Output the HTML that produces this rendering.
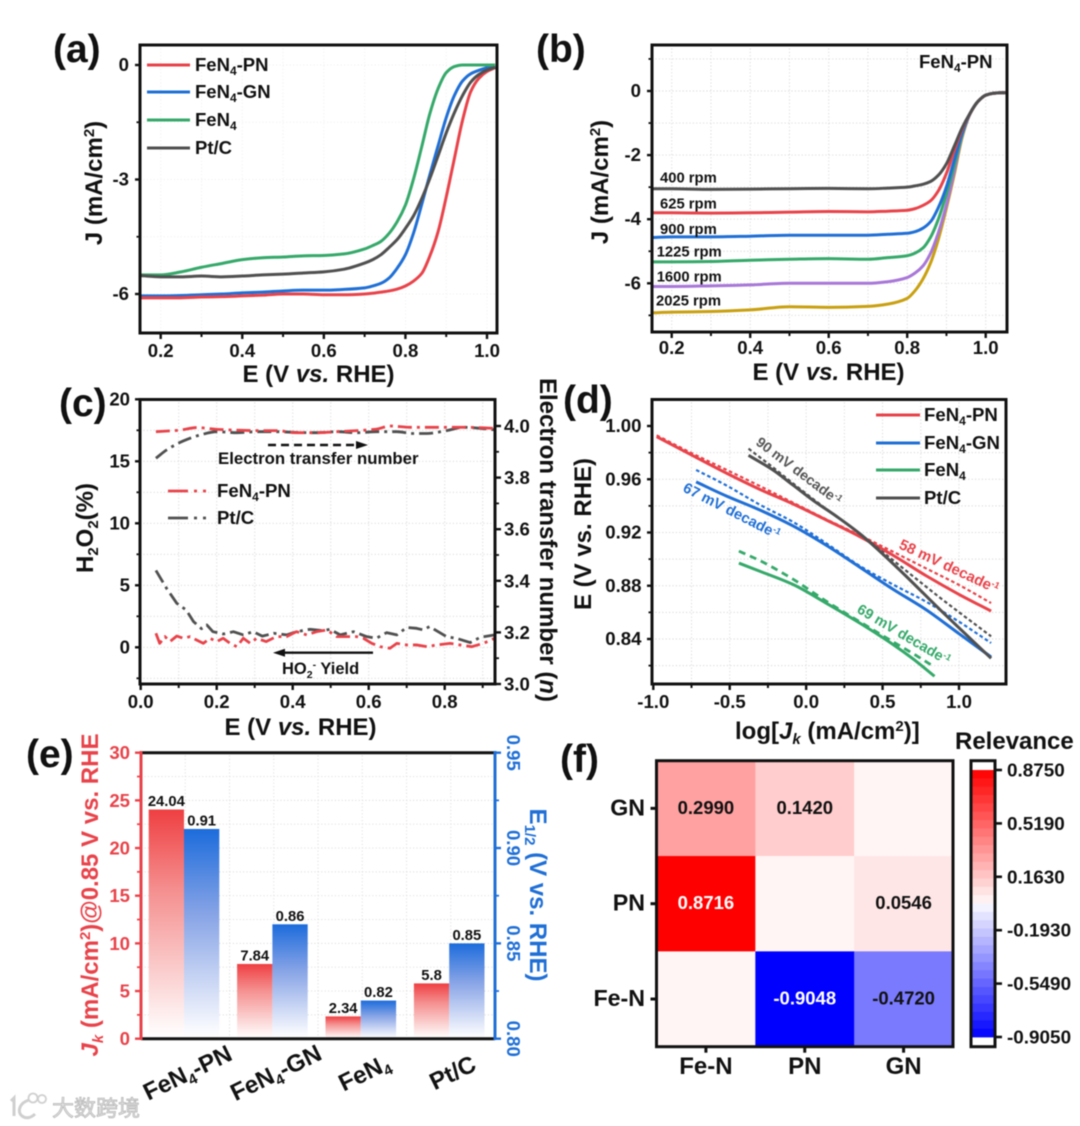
<!DOCTYPE html>
<html lang="en">
<head>
<meta charset="utf-8">
<title>Electrocatalyst ORR performance panels</title>
<style>
html,body{margin:0;padding:0;background:#fff;}
#fig{display:block;width:1080px;height:1126px;filter:blur(0.55px);}
#fig text{font-family:"Liberation Sans","Noto Sans CJK SC",sans-serif;font-weight:700;fill:#111;}
#fig text.wm{font-family:"Noto Sans CJK SC","Liberation Sans",sans-serif;font-weight:400;fill:#e2e2e2;stroke:#b4b4b4;stroke-width:.7;}
</style>
</head>
<body>
<svg id="fig" xmlns="http://www.w3.org/2000/svg" width="1080" height="1126" viewBox="0 0 1080 1126">
<defs>
<linearGradient id="gradRed" x1="0" y1="0" x2="0" y2="1"><stop offset="0" stop-color="#ef3f42"/><stop offset=".35" stop-color="#f58f8f"/><stop offset=".95" stop-color="#fff8f8"/><stop offset="1" stop-color="#fff"/></linearGradient>
<linearGradient id="gradBlue" x1="0" y1="0" x2="0" y2="1"><stop offset="0" stop-color="#1c6cdc"/><stop offset=".4" stop-color="#86a3e6"/><stop offset=".95" stop-color="#f8f9fe"/><stop offset="1" stop-color="#fff"/></linearGradient>
<clipPath id="clipA"><rect x="140" y="45" width="357" height="288"/></clipPath>
<clipPath id="clipB"><rect x="652" y="45" width="355" height="287"/></clipPath>
<clipPath id="clipC"><rect x="140" y="399" width="355" height="285"/></clipPath>
<clipPath id="clipD"><rect x="652" y="399" width="354" height="285"/></clipPath>
</defs>

<g id="panelA"></g>
<g id="panelB"></g>
<g id="panelC"></g>
<g id="panelD"></g>
<g id="panelE"></g>
<g id="panelF"></g>

<!-- panel letters -->
<text x="53" y="62" font-size="39">(a)</text>
<text x="536" y="62" font-size="39">(b)</text>
<text x="59" y="416" font-size="39">(c)</text>
<text x="563" y="413" font-size="39">(d)</text>
<text x="26" y="767" font-size="39">(e)</text>
<text x="560" y="772" font-size="39">(f)</text>

<!-- panel a static -->
<text x="318.5" y="382" font-size="24" text-anchor="middle">E (V <tspan font-style="italic">vs.</tspan> RHE)</text>
<text transform="translate(102,183) rotate(-90)" font-size="24" text-anchor="middle">J (mA/cm<tspan dy="-8" font-size="15">2</tspan><tspan dy="8">)</tspan></text>
<g>
<line x1="147" x2="190" y1="65" y2="65" stroke="#e8434a" stroke-width="3"/>
<text x="195" y="71" font-size="18.5">FeN<tspan dy="4" font-size="12">4</tspan><tspan dy="-4">-PN</tspan></text>
<line x1="147" x2="190" y1="92" y2="92" stroke="#1f6fd6" stroke-width="3"/>
<text x="195" y="98" font-size="18.5">FeN<tspan dy="4" font-size="12">4</tspan><tspan dy="-4">-GN</tspan></text>
<line x1="147" x2="190" y1="120" y2="120" stroke="#35a96a" stroke-width="3"/>
<text x="195" y="126" font-size="18.5">FeN<tspan dy="4" font-size="12">4</tspan></text>
<line x1="147" x2="190" y1="148" y2="148" stroke="#505050" stroke-width="3"/>
<text x="195" y="154" font-size="18.5">Pt/C</text>
</g>

<!-- panel b static -->
<text x="828.5" y="380" font-size="24" text-anchor="middle">E (V <tspan font-style="italic">vs.</tspan> RHE)</text>
<text transform="translate(608,182) rotate(-90)" font-size="24" text-anchor="middle">J (mA/cm<tspan dy="-8" font-size="15">2</tspan><tspan dy="8">)</tspan></text>
<text x="919" y="68" font-size="18.5">FeN<tspan dy="4" font-size="12">4</tspan><tspan dy="-4">-PN</tspan></text>

<!-- panel c static -->
<text x="300.5" y="735" font-size="24" text-anchor="middle">E (V <tspan font-style="italic">vs.</tspan> RHE)</text>
<text transform="translate(93,528) rotate(-90)" font-size="24" text-anchor="middle">H<tspan dy="5" font-size="15">2</tspan><tspan dy="-5">O</tspan><tspan dy="5" font-size="15">2</tspan><tspan dy="-5">(%)</tspan></text>
<text transform="translate(540,540) rotate(90)" font-size="24" text-anchor="middle">Electron transfer number (<tspan font-style="italic">n</tspan>)</text>
<text x="218" y="464" font-size="16.8">Electron transfer number</text>
<line x1="268" x2="358" y1="445" y2="445" stroke="#111" stroke-width="2.4" stroke-dasharray="8 5"/>
<polygon points="368,445 356,441 356,449" fill="#111"/>
<line x1="373" x2="284" y1="652.7" y2="652.7" stroke="#111" stroke-width="2.4"/>
<polygon points="273,652.7 285,648.7 285,656.7" fill="#111"/>
<text x="282" y="674" font-size="16.5">HO<tspan dy="4" font-size="10.5">2</tspan><tspan dy="-10" font-size="10.5">-</tspan><tspan dy="6"> Yield</tspan></text>
<line x1="168" x2="213" y1="491" y2="491" stroke="#e8434a" stroke-width="2.8" stroke-dasharray="20 6 3 6 3 20"/>
<text x="217" y="497" font-size="18.6">FeN<tspan dy="4" font-size="12">4</tspan><tspan dy="-4">-PN</tspan></text>
<line x1="168" x2="213" y1="518" y2="518" stroke="#505050" stroke-width="2.8" stroke-dasharray="20 6 3 6 3 20"/>
<text x="217" y="524" font-size="18.6">Pt/C</text>

<!-- panel d static -->
<text x="735" y="739" font-size="24">log[<tspan font-style="italic">J</tspan><tspan dy="5" font-size="15" font-style="italic">k</tspan><tspan dy="-5"> (mA/cm</tspan><tspan dy="-8" font-size="15">2</tspan><tspan dy="8">)]</tspan></text>
<text transform="translate(591,534) rotate(-90)" font-size="24" text-anchor="middle">E (V vs. RHE)</text>
<g>
<line x1="876" x2="920" y1="415" y2="415" stroke="#e8434a" stroke-width="3"/>
<text x="924" y="421" font-size="18.6">FeN<tspan dy="4" font-size="12">4</tspan><tspan dy="-4">-PN</tspan></text>
<line x1="876" x2="920" y1="443" y2="443" stroke="#1f6fd6" stroke-width="3"/>
<text x="924" y="449" font-size="18.6">FeN<tspan dy="4" font-size="12">4</tspan><tspan dy="-4">-GN</tspan></text>
<line x1="876" x2="920" y1="470" y2="470" stroke="#35a96a" stroke-width="3"/>
<text x="924" y="476" font-size="18.6">FeN<tspan dy="4" font-size="12">4</tspan></text>
<line x1="876" x2="920" y1="498" y2="498" stroke="#505050" stroke-width="3"/>
<text x="924" y="504" font-size="18.6">Pt/C</text>
</g>
<text transform="translate(755,444) rotate(37)" font-size="14.2" style="fill:#555">90 mV decade<tspan dy="-5" font-size="9">-1</tspan></text>
<text transform="translate(682,491) rotate(27)" font-size="14.8" style="fill:#1f6fd6">67 mV decade<tspan dy="-5" font-size="9">-1</tspan></text>
<text transform="translate(898,548) rotate(25)" font-size="15" style="fill:#e8434a">58 mV decade<tspan dy="-5" font-size="9">-1</tspan></text>
<text transform="translate(856,612) rotate(30.5)" font-size="14.6" style="fill:#35a96a">69 mV decade<tspan dy="-5" font-size="9">-1</tspan></text>

<!-- panel e static -->
<text transform="translate(98,895) rotate(-90)" font-size="24" text-anchor="middle" style="fill:#e8434a"><tspan font-style="italic">J</tspan><tspan dy="5" font-size="15" font-style="italic">k</tspan><tspan dy="-5"> (mA/cm</tspan><tspan dy="-8" font-size="15">2</tspan><tspan dy="8">)@0.85 V vs. RHE</tspan></text>
<text transform="translate(530,895) rotate(90)" font-size="24" text-anchor="middle" style="fill:#1f6fd6">E<tspan dy="5" font-size="15">1/2</tspan><tspan dy="-5"> (V vs. RHE)</tspan></text>

<!-- panel f static -->
<text x="955" y="749" font-size="24">Relevance</text>

<!-- watermark -->
<g fill="none" stroke="#cfcfcf">
<path d="M11 1101 L14 1098 L14 1116" stroke-width="3"/>
<path d="M29 1100 C19 1103 17 1112 22 1116 C26 1119 31 1118 35 1114" stroke-width="3"/>
<circle cx="33" cy="1098" r="4.5" stroke-width="1.8"/>
<circle cx="42" cy="1099" r="4" stroke-width="1.8"/>
<text class="wm" x="52" y="1116" font-size="22">大数跨境</text>
</g>
</svg>

<script>
/* ---------- panel (a) data ---------- */
const aE    = [.15,.2,.25,.3,.35,.4,.45,.5,.55,.6,.65,.7,.72,.74,.76,.78,.8,.82,.84,.86,.88,.9,.92,.94,.96,.98,1,1.02];
const aPN   = [-6.1,-6.1,-6.1,-6.08,-6.07,-6.05,-6.03,-6,-6,-6.02,-6.02,-6,-5.98,-5.95,-5.92,-5.87,-5.79,-5.66,-5.46,-5,-4.37,-3.46,-2.45,-1.45,-.7,-.35,-.17,-.07];
const aGN   = [-6.05,-6.05,-6.04,-6.02,-6,-5.97,-5.95,-5.92,-5.9,-5.9,-5.88,-5.84,-5.79,-5.72,-5.58,-5.32,-4.97,-4.4,-3.65,-2.87,-2.12,-1.38,-.8,-.42,-.23,-.14,-.07,-.02];
const aFeN4 = [-5.5,-5.5,-5.42,-5.3,-5.2,-5.1,-5.05,-5.03,-5,-4.99,-4.95,-4.82,-4.73,-4.62,-4.41,-4.1,-3.67,-2.98,-2.14,-1.27,-.62,-.2,-.04,0,0,0,0,0];
const aPtC  = [-5.52,-5.55,-5.55,-5.53,-5.55,-5.53,-5.5,-5.48,-5.45,-5.42,-5.35,-5.19,-5.1,-4.97,-4.78,-4.57,-4.28,-3.95,-3.5,-2.97,-2.38,-1.78,-1.25,-.8,-.45,-.25,-.13,-.06];
const aXTicks = ['0.2','0.4','0.6','0.8','1.0'];
const aYTicks = ['0','-3','-6'];

/* ---------- panel (b) data ---------- */
const bE     = [.15,.2,.3,.4,.5,.6,.7,.75,.8,.82,.84,.86,.88,.9,.92,.94,.96,.98,1,1.02,1.05];
const b400   = [-3.05,-3.05,-3.07,-3.06,-3.05,-3.04,-3.05,-3.03,-3,-2.96,-2.91,-2.82,-2.62,-2.27,-1.72,-1.15,-.7,-.33,-.13,-.07,-.05];
const b625   = [-3.8,-3.8,-3.81,-3.8,-3.78,-3.76,-3.77,-3.75,-3.72,-3.67,-3.57,-3.42,-3.1,-2.57,-1.85,-1.2,-.7,-.33,-.13,-.07,-.05];
const b900   = [-4.57,-4.55,-4.55,-4.53,-4.5,-4.5,-4.5,-4.47,-4.44,-4.39,-4.28,-4.07,-3.62,-2.99,-2.15,-1.3,-.7,-.33,-.13,-.07,-.05];
const b1225  = [-5.33,-5.33,-5.32,-5.28,-5.25,-5.23,-5.25,-5.2,-5.14,-5.06,-4.9,-4.55,-3.98,-3.2,-2.32,-1.35,-.7,-.33,-.13,-.07,-.05];
const b1600  = [-6.1,-6.1,-6.08,-6.05,-6,-6,-6,-5.95,-5.82,-5.68,-5.46,-5.05,-4.4,-3.55,-2.5,-1.4,-.72,-.33,-.13,-.07,-.05];
const b2025  = [-6.92,-6.9,-6.88,-6.83,-6.73,-6.75,-6.72,-6.65,-6.47,-6.23,-5.87,-5.35,-4.6,-3.65,-2.6,-1.45,-.72,-.33,-.13,-.07,-.05];
const bXTicks = ['0.2','0.4','0.6','0.8','1.0'];
const bYTicks = ['0','-2','-4','-6'];
const bRpmLabels = ['400 rpm','625 rpm','900 rpm','1225 rpm','1600 rpm','2025 rpm'];

/* ---------- panel (c) data ---------- */
const cEnPN   = [.04,.104,.147,.2,.253,.305,.358,.41,.463,.516,.568,.621,.656,.709,.753,.796,.849,.932];
const cNPN    = [3.978,3.984,3.994,3.987,3.984,3.982,3.982,3.974,3.974,3.978,3.982,3.988,4,3.995,3.995,3.995,3.995,3.991];
const cEnPtC  = [.04,.068,.112,.156,.2,.253,.305,.358,.41,.463,.516,.568,.621,.674,.718,.753,.805,.849,.893,.934];
const cNPtC   = [3.875,3.907,3.942,3.965,3.978,3.974,3.978,3.978,3.975,3.974,3.978,3.974,3.978,3.978,3.971,3.971,3.982,3.995,3.991,3.985];
const cEyPN   = [.04,.05,.064,.077,.095,.112,.13,.147,.165,.182,.2,.217,.235,.253,.27,.288,.305,.33,.357,.384,.41,.437,.463,.49,.516,.542,.568,.586,.608,.63,.656,.674,.7,.726,.753,.779,.814,.84,.871,.902,.932];
const cYPN    = [1.13,.32,.86,.46,.91,.73,.86,.59,.32,.73,.46,.73,.32,.05,.73,.32,.73,.46,.86,.86,1.26,1,1.26,1.4,.86,.86,.86,.73,.32,.05,-.08,.32,.19,.19,.05,.19,.32,.19,.05,.32,.73];
const cEyPtC  = [.04,.068,.095,.12,.139,.16,.174,.19,.218,.244,.27,.296,.32,.35,.384,.41,.445,.48,.498,.525,.56,.595,.62,.647,.674,.7,.726,.744,.76,.805,.83,.867,.893,.932];
const cYPtC   = [6.2,4.76,3.55,3,2.07,1.5,1.8,1.26,1.07,1.26,1,1.26,.9,1.13,1,1.26,1.45,1.34,1.45,1,1.26,.86,.73,1.18,1,1.6,1.53,1.4,1.67,.86,.73,.38,.8,1];
const cXTicks = ['0.0','0.2','0.4','0.6','0.8'];
const cLeftTicks = ['20','15','10','5','0'];
const cRightTicks = ['4.0','3.8','3.6','3.4','3.2','3.0'];

/* ---------- panel (d) data ---------- */
const dPNx  = [-.978,-.738,-.52,-.305,-.087,.13,.35,.567,.785,1,1.21];
const dPNy  = [.992,.9775,.9645,.9525,.9415,.9295,.917,.903,.8875,.8735,.861];
const dPNf  = [.993,.979,.967,.955,.9425,.93,.918,.9056,.893,.8806,.867];
const dGNx  = [-.72,-.524,-.305,-.087,.13,.35,.567,.785,1,1.21];
const dGNy  = [.958,.9475,.937,.925,.9105,.894,.8775,.862,.844,.8265];
const dGNf  = [.967,.9555,.941,.928,.912,.895,.881,.868,.853,.837];
const dFeX  = [-.44,-.305,-.087,.13,.35,.567,.7,.84];
const dFeY  = [.897,.891,.881,.867,.852,.836,.825,.812];
const dFeF  = [.906,.899,.885,.8685,.853,.838,.829,.819];
const dPtX  = [-.377,-.218,-.087,.047,.2,.352,.592,.876,1.21];
const dPtY  = [.978,.967,.9557,.944,.932,.919,.894,.862,.8255];
const dPtF  = [.983,.969,.957,.945,.932,.919,.897,.871,.842];
const dXTicks = ['-1.0','-0.5','0.0','0.5','1.0'];
const dYTicks = ['1.00','0.96','0.92','0.88','0.84'];

/* ---------- panel (e) data ---------- */
const eCategories = ['FeN4-PN','FeN4-GN','FeN4','Pt/C'];
const eJk  = [24.04,7.84,2.34,5.8];
const eE12 = [.91,.86,.82,.85];
const eJkLabels  = ['24.04','7.84','2.34','5.8'];
const eE12Labels = ['0.91','0.86','0.82','0.85'];
const eLeftTicks  = ['30','25','20','15','10','5','0'];
const eRightTicks = ['0.95','0.90','0.85','0.80'];

/* ---------- panel (f) data ---------- */
const fRows = ['GN','PN','Fe-N'];
const fCols = ['Fe-N','PN','GN'];
const fValues = [[.2990,.1420,0],[.8716,0,.0546],[0,-.9048,-.4720]];
const fBarTicks = ['0.8750','0.5190','0.1630','-0.1930','-0.5490','-0.9050'];

/* ---------- helpers ---------- */
const NS = 'http://www.w3.org/2000/svg';
const RED='#e8434a', BLUE='#1f6fd6', GREEN='#35a96a', DARK='#505050', GOLD='#c9a010', PURPLE='#a877d8';

function add(parent, tag, attrs, name, txt){
  const el = document.createElementNS(NS, tag);
  for (const k in attrs) el.setAttribute(k, attrs[k]);
  
  
  if (txt !== undefined) el.textContent = txt;
  parent.appendChild(el);
  return el;
}
function scale(d0, r0, d1, r1){ return v => r0 + (v - d0) * (r1 - r0) / (d1 - d0); }
/* monotone cubic through the data points (keeps knees smooth with uneven spacing) */
function smoothPath(pts){
  const n = pts.length, sec = [], m = [];
  for (let i = 0; i < n-1; i++) sec.push((pts[i+1][1]-pts[i][1])/(pts[i+1][0]-pts[i][0]));
  m[0] = sec[0]; m[n-1] = sec[n-2];
  for (let i = 1; i < n-1; i++){
    if (sec[i-1]*sec[i] <= 0) { m[i] = 0; continue; }
    const h0 = pts[i][0]-pts[i-1][0], h1 = pts[i+1][0]-pts[i][0];
    const w0 = 2*h1+h0, w1 = h1+2*h0;
    m[i] = (w0+w1)/(w0/sec[i-1]+w1/sec[i]);
  }
  let d = 'M' + pts[0][0].toFixed(2) + ' ' + pts[0][1].toFixed(2);
  for (let i = 0; i < n-1; i++){
    const h = (pts[i+1][0]-pts[i][0])/3;
    d += 'C' + (pts[i][0]+h).toFixed(2) + ' ' + (pts[i][1]+m[i]*h).toFixed(2) + ' '
      + (pts[i+1][0]-h).toFixed(2) + ' ' + (pts[i+1][1]-m[i+1]*h).toFixed(2) + ' '
      + pts[i+1][0].toFixed(2) + ' ' + pts[i+1][1].toFixed(2);
  }
  return d;
}
function series(g, xs, ys, sx, sy, opts, name){
  const pts = xs.map((x,i) => [sx(x), sy(ys[i])]);
  const attrs = {fill:'none', stroke:opts.color, 'stroke-width':opts.w || 3, 'stroke-linejoin':'round'};
  if (opts.dash) attrs['stroke-dasharray'] = opts.dash;
  if (opts.clip) attrs['clip-path'] = 'url(#' + opts.clip + ')';
  attrs.d = opts.straight ? 'M' + pts.map(p => p[0].toFixed(2) + ' ' + p[1].toFixed(2)).join('L') : smoothPath(pts);
  return add(g, 'path', attrs, name);
}
function frame(g, x0, y0, x1, y1, name){
  add(g, 'rect', {x:x0, y:y0, width:x1-x0, height:y1-y0, fill:'none', stroke:'#111', 'stroke-width':3}, name);
}
function vGrid(g, vals, sx, y0, y1, color){
  vals.forEach(v => add(g, 'line', {x1:sx(v), x2:sx(v), y1:y0, y2:y1, stroke:color, 'stroke-width':.9, 'stroke-dasharray':'1.2 2.2'}, 'grid-line-vertical'));
}
function hGrid(g, vals, sy, x0, x1, color){
  vals.forEach(v => add(g, 'line', {y1:sy(v), y2:sy(v), x1:x0, x2:x1, stroke:color, 'stroke-width':.9, 'stroke-dasharray':'1.2 2.2'}, 'grid-line-horizontal'));
}
function xAxis(g, labels, sx, yBase, labelY, minors, color, name){
  labels.forEach(t => {
    const v = parseFloat(t);
    add(g, 'line', {x1:sx(v), x2:sx(v), y1:yBase, y2:yBase+6, stroke:color||'#111', 'stroke-width':2.4}, name + '-tick');
    add(g, 'text', {x:sx(v), y:labelY, 'font-size':18.6, 'text-anchor':'middle'}, name + '-tick-label', t);
  });
  minors.forEach(v => add(g, 'line', {x1:sx(v), x2:sx(v), y1:yBase, y2:yBase+4, stroke:color||'#111', 'stroke-width':2}, name + '-minor-tick'));
}
function yAxis(g, labels, sy, xBase, labelX, minors, name){
  labels.forEach(t => {
    const v = parseFloat(t);
    add(g, 'line', {y1:sy(v), y2:sy(v), x1:xBase, x2:xBase-5, stroke:'#111', 'stroke-width':2.4}, name + '-tick');
    add(g, 'text', {x:labelX, y:sy(v)+6, 'font-size':18.6, 'text-anchor':'end'}, name + '-tick-label', t);
  });
  minors.forEach(v => add(g, 'line', {y1:sy(v), y2:sy(v), x1:xBase, x2:xBase-3.5, stroke:'#111', 'stroke-width':1.8}, name + '-minor-tick'));
}

/* ---------- panel a ---------- */
(function(){
  const g = document.getElementById('panelA');
  const sx = scale(.2,160.7,1,487), sy = scale(0,65,-6,294);
  vGrid(g,[.2,.3,.4,.5,.6,.7,.8,.9,1],sx,45,333,'#efefef');
  hGrid(g,[0,-1.5,-3,-4.5,-6],sy,140,497,'#efefef');
  series(g,aE,aGN,sx,sy,{color:BLUE,clip:'clipA'},'a-line-fen4-gn');
  series(g,aE,aPN,sx,sy,{color:RED,clip:'clipA'},'a-line-fen4-pn');
  series(g,aE,aFeN4,sx,sy,{color:GREEN,clip:'clipA'},'a-line-fen4');
  series(g,aE,aPtC,sx,sy,{color:DARK,clip:'clipA'},'a-line-ptc');
  frame(g,140,45,497,333,'a-plot-frame');
  xAxis(g,aXTicks,sx,333,357,[.3,.5,.7,.9],null,'a-x-axis');
  yAxis(g,aYTicks,sy,140,129,[-1.5,-4.5],'a-y-axis');
})();

/* ---------- panel b ---------- */
(function(){
  const g = document.getElementById('panelB');
  const sx = scale(.2,671.7,1,985.7), sy = scale(0,91,-6,283.3);
  vGrid(g,[.2,.3,.4,.5,.6,.7,.8,.9,1],sx,45,332,'#d6d6d6');
  hGrid(g,[1,0,-1,-2,-3,-4,-5,-6,-7],sy,652,1007,'#d6d6d6');
  const opts = [[b2025,GOLD,'2025'],[b1600,PURPLE,'1600'],[b1225,GREEN,'1225'],[b900,BLUE,'900'],[b625,RED,'625'],[b400,DARK,'400']];
  opts.forEach(o => series(g,bE,o[0],sx,sy,{color:o[1],clip:'clipB'},'b-line-' + o[2] + '-rpm'));
  const xs = [660,660,660,656.7,656.7,656];
  const ys = [-2.85,-3.67,-4.46,-5.17,-5.94,-6.7];
  bRpmLabels.forEach((t,i) => add(g,'text',{x:xs[i],y:sy(ys[i]),'font-size':14.8},'b-rpm-label',t));
  frame(g,652,45,1007,332,'b-plot-frame');
  xAxis(g,bXTicks,sx,332,354,[.3,.5,.7,.9],null,'b-x-axis');
  yAxis(g,bYTicks,sy,652,641,[1,-1,-3,-5,-7],'b-y-axis');
})();

/* ---------- panel c ---------- */
(function(){
  const g = document.getElementById('panelC');
  const sx = scale(0,140.7,.8,444.7), syL = scale(0,647.3,20,399.3), syR = scale(3,684,4,426);
  vGrid(g,[.1,.2,.3,.4,.5,.6,.7,.8,.9],sx,399,684,'#d6d6d6');
  hGrid(g,[-2.5,0,2.5,5,7.5,10,12.5,15,17.5],syL,140,495,'#d6d6d6');
  const dash = '14 5 3 5';
  series(g,cEnPtC,cNPtC,sx,syR,{color:DARK,dash:dash,w:2.8,straight:false,clip:'clipC'},'c-line-ptc-electron-number');
  series(g,cEnPN,cNPN,sx,syR,{color:RED,dash:dash,w:2.8,straight:false,clip:'clipC'},'c-line-pn-electron-number');
  series(g,cEyPtC,cYPtC,sx,syL,{color:DARK,dash:dash,w:2.8,straight:true,clip:'clipC'},'c-line-ptc-yield');
  series(g,cEyPN,cYPN,sx,syL,{color:RED,dash:dash,w:2.8,straight:true,clip:'clipC'},'c-line-pn-yield');
  frame(g,140,399.5,495,684,'c-plot-frame');
  xAxis(g,cXTicks,sx,684,708,[.1,.3,.5,.7,.9],null,'c-x-axis');
  yAxis(g,cLeftTicks,syL,140,130,[2.5,7.5,12.5,17.5,-2.5],'c-left-axis');
  cRightTicks.forEach(t => {
    const v = parseFloat(t);
    add(g,'line',{y1:syR(v),y2:syR(v),x1:495,x2:501,stroke:'#111','stroke-width':2.4},'c-right-axis-tick');
    add(g,'text',{x:504,y:syR(v)+6.5,'font-size':18.6},'c-right-axis-tick-label',t);
  });
  [3.1,3.3,3.5,3.7,3.9].forEach(v => add(g,'line',{y1:syR(v),y2:syR(v),x1:495,x2:499,stroke:'#111','stroke-width':1.8},'c-right-axis-minor-tick'));
})();

/* ---------- panel d ---------- */
(function(){
  const g = document.getElementById('panelD');
  const sx = scale(-1,653.3,1,959), sy = scale(1,426,.84,639);
  vGrid(g,[-.75,-.5,-.25,0,.25,.5,.75,1],sx,399,684,'#d6d6d6');
  hGrid(g,[.98,.96,.94,.92,.9,.88,.86,.84,.82],sy,652,1006,'#d6d6d6');
  const fine = '3.6 2.6';
  series(g,dPNx,dPNy,sx,sy,{color:RED,clip:'clipD'},'d-line-pn');
  series(g,dPNx,dPNf,sx,sy,{color:RED,dash:fine,w:2.2,clip:'clipD'},'d-fit-pn');
  series(g,dGNx,dGNy,sx,sy,{color:BLUE,clip:'clipD'},'d-line-gn');
  series(g,dGNx,dGNf,sx,sy,{color:BLUE,dash:fine,w:2.2,clip:'clipD'},'d-fit-gn');
  series(g,dFeX,dFeY,sx,sy,{color:GREEN,clip:'clipD'},'d-line-fen4');
  series(g,dFeX,dFeF,sx,sy,{color:GREEN,dash:'7 5',w:2.8,clip:'clipD'},'d-fit-fen4');
  series(g,dPtX,dPtY,sx,sy,{color:DARK,clip:'clipD'},'d-line-ptc');
  series(g,dPtX,dPtF,sx,sy,{color:DARK,dash:fine,w:2.2,clip:'clipD'},'d-fit-ptc');
  frame(g,652,399.5,1006,684,'d-plot-frame');
  xAxis(g,dXTicks,sx,684,708,[-.75,-.25,.25,.75],null,'d-x-axis');
  yAxis(g,dYTicks,sy,652,641.5,[.98,.94,.9,.86,.82],'d-y-axis');
})();

/* ---------- panel e ---------- */
(function(){
  const g = document.getElementById('panelE');
  const syL = scale(0,1038.7,30,752.7), syR = scale(.8,1038.7,.95,752.7);
  const cx = i => 184 + 88.4 * i;
  const halfW = 35.3;
  vGrid(g,[1,2,3,4,5,6,7,8].map(k => k),scale(0,141,8,495),752,1038,'#dcdcdc');
  hGrid(g,[2.5,5,7.5,10,12.5,15,17.5,20,22.5,25,27.5],syL,141,495,'#dcdcdc');
  eCategories.forEach((c,i) => {
    const yr = syL(eJk[i]), yb = syR(eE12[i]), y0 = syL(0);
    add(g,'rect',{x:cx(i)-halfW,y:yr,width:halfW,height:y0-yr,fill:'url(#gradRed)'},'bar-jk-' + i);
    add(g,'rect',{x:cx(i),y:yb,width:halfW,height:y0-yb,fill:'url(#gradBlue)'},'bar-e12-' + i);
    add(g,'text',{x:cx(i)-halfW/2,y:yr-3.5,'font-size':14.8,'text-anchor':'middle'},'bar-jk-value',eJkLabels[i]);
    add(g,'text',{x:cx(i)+halfW/2,y:yb-3.5,'font-size':14.8,'text-anchor':'middle'},'bar-e12-value',eE12Labels[i]);
    const parts = c.split('4');
    const lab = add(g,'text',{transform:'translate(' + (cx(i)+7) + ',1080) rotate(-26)','font-size':24,'text-anchor':'middle'},'x-category-label');
    lab.appendChild(document.createTextNode(parts[0]));
    if (parts.length > 1){
      const s = add(lab,'tspan',{dy:5,'font-size':15},'x-category-subscript','4');
      const r = add(lab,'tspan',{dy:-5},'x-category-suffix',parts[1] || ' ');
    }
  });
  add(g,'line',{x1:141,x2:495,y1:752.7,y2:752.7,stroke:'#111','stroke-width':3},'e-top-axis');
  add(g,'line',{x1:141,x2:495,y1:1038.7,y2:1038.7,stroke:'#111','stroke-width':3},'e-bottom-axis');
  add(g,'line',{x1:141,x2:141,y1:751,y2:1040,stroke:RED,'stroke-width':3},'e-left-axis');
  add(g,'line',{x1:495,x2:495,y1:751,y2:1040,stroke:BLUE,'stroke-width':3},'e-right-axis');
  eLeftTicks.forEach(t => {
    const v = parseFloat(t);
    add(g,'line',{y1:syL(v),y2:syL(v),x1:141,x2:135,stroke:RED,'stroke-width':2.4},'e-left-tick');
    add(g,'text',{x:130,y:syL(v)+6.5,'font-size':18.6,'text-anchor':'end',style:'fill:' + RED},'e-left-tick-label',t);
  });
  [2.5,7.5,12.5,17.5,22.5,27.5].forEach(v => add(g,'line',{y1:syL(v),y2:syL(v),x1:141,x2:137,stroke:RED,'stroke-width':1.8},'e-left-minor-tick'));
  eRightTicks.forEach(t => {
    const v = parseFloat(t);
    add(g,'line',{y1:syR(v),y2:syR(v),x1:495,x2:501,stroke:BLUE,'stroke-width':2.4},'e-right-tick');
    add(g,'text',{transform:'translate(507,' + syR(v) + ') rotate(90)','font-size':18.6,'text-anchor':'middle',style:'fill:' + BLUE},'e-right-tick-label',t);
  });
  [.825,.875,.925].forEach(v => add(g,'line',{y1:syR(v),y2:syR(v),x1:495,x2:499,stroke:BLUE,'stroke-width':1.8},'e-right-minor-tick'));
})();

/* ---------- panel f ---------- */
function heatColor(v){
  if (v >= 0){
    const c = Math.max(0, Math.round(245 - 281 * v));
    return 'rgb(255,' + c + ',' + c + ')';
  }
  const c = Math.max(0, Math.round(255 * (1 + v / .905)));
  return 'rgb(' + c + ',' + c + ',255)';
}
(function(){
  const g = document.getElementById('panelF');
  const x0 = 656.5, x1 = 953, y0 = 760.7, y1 = 1046.7;
  const cw = (x1-x0)/fCols.length, ch = (y1-y0)/fRows.length;
  fValues.forEach((row,r) => row.forEach((v,c) => {
    add(g,'rect',{x:x0+c*cw,y:y0+r*ch,width:cw+.3,height:ch+.3,fill:heatColor(v)},'heatmap-cell');
    if (v !== 0){
      const strong = Math.abs(v) > .8;
      add(g,'text',{x:x0+(c+.5)*cw,y:y0+(r+.5)*ch+5.5,'font-size':18.5,'text-anchor':'middle',style:'fill:' + (strong ? '#fff' : '#111')},'heatmap-value',v.toFixed(4));
    }
  }));
  frame(g,x0,y0,x1,y1,'heatmap-frame');
  fRows.forEach((t,r) => {
    const y = y0+(r+.5)*ch;
    add(g,'line',{x1:x0,x2:x0-6,y1:y,y2:y,stroke:'#111','stroke-width':3},'heatmap-y-tick');
    add(g,'text',{x:645,y:y+7,'font-size':23.2,'text-anchor':'end'},'heatmap-y-label',t);
  });
  fCols.forEach((t,c) => {
    const x = x0+(c+.5)*cw;
    add(g,'line',{x1:x,x2:x,y1:y1,y2:y1+6,stroke:'#111','stroke-width':3},'heatmap-x-tick');
    add(g,'text',{x:x,y:1074,'font-size':24,'text-anchor':'middle'},'heatmap-x-label',t);
  });
  /* colour bar */
  const sb = scale(.875,770,-.905,1037);
  const bx = 971, bw = 24;
  add(g,'rect',{x:bx,y:y0,width:bw,height:y1-y0,fill:'#fff'},'colorbar-background');
  const steps = 32;
  for (let i = 0; i < steps; i++){
    const vTop = .875 - 1.78 * i / steps, vBot = .875 - 1.78 * (i+1) / steps;
    add(g,'rect',{x:bx,y:sb(vTop),width:bw,height:sb(vBot)-sb(vTop)+.4,fill:heatColor((vTop+vBot)/2)},'colorbar-step');
  }
  add(g,'rect',{x:bx,y:y0,width:bw,height:y1-y0,fill:'none',stroke:'#111','stroke-width':3},'colorbar-frame');
  fBarTicks.forEach(t => {
    const v = parseFloat(t);
    add(g,'line',{x1:bx+bw,x2:bx+bw+7,y1:sb(v),y2:sb(v),stroke:'#111','stroke-width':2.6},'colorbar-tick');
    add(g,'text',{x:1007,y:sb(v)+6.5,'font-size':18.9},'colorbar-tick-label',t);
  });
})();
</script>
</body>
</html>
